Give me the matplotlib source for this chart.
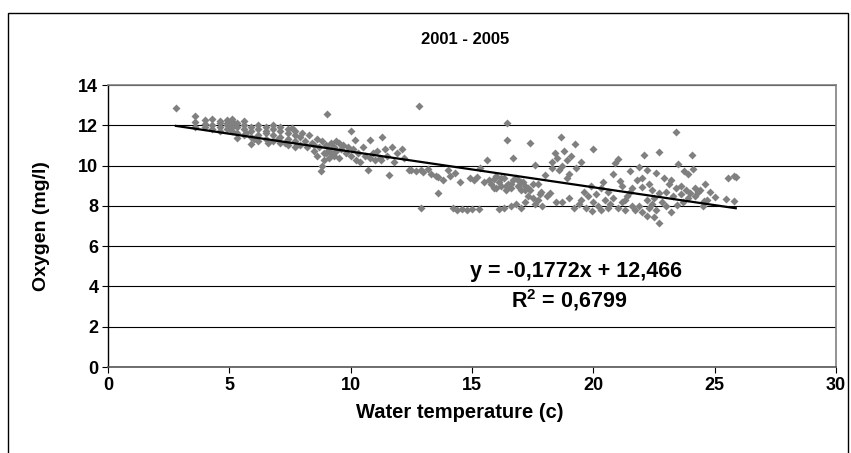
import matplotlib
matplotlib.use("Agg")
import matplotlib.pyplot as plt
from matplotlib.patches import Rectangle

plt.rcParams['font.family'] = ['Liberation Sans', 'DejaVu Sans']
plt.rcParams['font.weight'] = 'bold'
plt.rcParams['mathtext.fontset'] = 'custom'
plt.rcParams['mathtext.rm'] = 'Liberation Sans:bold'
plt.rcParams['mathtext.bf'] = 'Liberation Sans:bold'

# Water temperature (c) and dissolved oxygen (mg/l), grouped by temperature range
temp_cold = [2.8, 3.6, 3.6, 3.6, 4.0, 4.0, 4.0, 4.3, 4.3, 4.3, 4.6, 4.6, 4.6, 4.6,
             4.9, 4.9, 4.9, 4.9, 5.1, 5.1, 5.1, 5.1, 5.1, 5.3, 5.3, 5.3, 5.3,
             5.6, 5.6, 5.6, 5.6, 5.9, 5.9, 5.9, 5.9, 6.2, 6.2, 6.2, 6.2,
             6.5, 6.5, 6.5, 6.5, 6.8, 6.8, 6.8, 6.8, 7.1, 7.1, 7.1, 7.1,
             7.4, 7.4, 7.4, 7.4, 7.7, 7.7, 7.7, 7.7, 6.0, 6.6, 7.0, 7.3, 5.7]
oxy_cold = [12.85, 12.45, 12.15, 11.9, 12.25, 11.9, 12.05, 12.3, 12.0, 11.8, 12.2, 11.9, 12.1, 11.7,
            12.25, 12.0, 11.8, 12.1, 12.3, 12.0, 11.7, 11.9, 12.2, 11.35, 12.1, 11.9, 11.6,
            12.0, 11.8, 11.5, 12.2, 11.05, 11.7, 11.9, 11.4, 11.8, 11.5, 11.2, 12.0,
            11.9, 11.6, 11.3, 11.7, 11.5, 11.8, 11.2, 12.0, 11.4, 11.7, 11.1, 11.9,
            11.6, 11.3, 11.0, 11.8, 11.5, 11.2, 11.7, 10.9, 11.3, 11.1, 11.3, 11.1, 11.6]

temp_cool = [7.6, 7.9, 7.9, 8.0, 8.1, 8.2, 8.3, 8.4, 8.5, 8.6, 8.6, 8.7, 8.77, 8.8, 8.8,
             8.9, 8.9, 9.0, 9.04, 9.1, 9.1, 9.2, 9.2, 9.3, 9.3, 9.4, 9.4, 9.5, 9.6, 9.7,
             9.8, 9.9, 10.0, 10.0, 10.1, 10.16, 10.3, 10.4, 10.5, 10.6, 10.7, 10.8, 10.9,
             11.0, 11.1, 11.2, 11.26, 11.3, 11.4, 11.5, 11.56, 11.7, 11.8, 11.9, 12.1,
             12.2, 12.4, 8.5, 9.0, 9.5, 10.2, 10.8]
oxy_cool = [11.85, 11.4, 11.0, 11.6, 11.2, 10.9, 11.5, 11.1, 10.7, 11.3, 10.5, 10.9, 9.73, 10.0, 11.2,
            10.6, 10.3, 11.0, 12.56, 10.8, 10.4, 11.1, 10.6, 10.9, 10.5, 11.2, 10.7, 10.4, 10.8, 11.0,
            10.6, 10.9, 11.7, 10.5, 10.8, 11.27, 10.6, 10.2, 10.9, 10.5, 9.78, 11.27, 10.6,
            10.28, 10.7, 10.4, 10.28, 11.43, 10.8, 10.5, 9.53, 10.94, 10.2, 10.6, 10.82,
            10.4, 9.78, 11.0, 10.6, 11.1, 10.3, 10.4]

temp_mild = [12.5, 12.7, 12.8, 12.9, 12.9, 13.0, 13.2, 13.3, 13.5, 13.6, 13.6, 13.8, 14.0,
             14.1, 14.2, 14.3, 14.4, 14.5, 14.6, 14.8, 14.9, 15.0, 15.1, 15.2, 15.3, 15.35,
             15.5, 15.6, 15.8, 15.9, 16.0, 16.1, 16.1, 16.2, 16.3, 16.3, 16.45, 16.45, 16.5,
             16.6, 16.6, 16.7, 16.7, 16.8, 16.9, 17.0, 17.0, 17.1, 17.2, 17.2, 17.3, 17.4,
             15.7, 15.9, 16.2, 16.4, 16.6, 16.8, 17.0, 17.2, 16.0, 16.4, 16.9]
oxy_mild = [9.8, 9.75, 12.96, 7.88, 9.8, 9.7, 9.85, 9.6, 9.5, 9.45, 8.66, 9.3, 9.8,
            9.5, 7.88, 9.63, 7.8, 9.2, 7.85, 7.8, 9.4, 7.85, 9.3, 9.45, 7.85, 9.9,
            9.2, 10.28, 9.1, 9.35, 8.9, 7.85, 9.2, 9.0, 7.9, 9.4, 12.13, 11.27, 9.1,
            8.0, 8.9, 10.38, 9.3, 8.1, 9.0, 7.9, 8.8, 9.2, 8.2, 9.0, 8.5, 11.1,
            9.3, 8.9, 9.4, 8.8, 9.1, 9.4, 9.2, 8.8, 9.5, 9.0, 9.3]

temp_warm = [17.3, 17.4, 17.5, 17.5, 17.6, 17.6, 17.7, 17.7, 17.8, 17.85, 17.9, 18.0, 18.1,
             18.2, 18.3, 18.3, 18.4, 18.45, 18.5, 18.6, 18.65, 18.7, 18.7, 18.8, 18.9, 18.9,
             19.0, 19.0, 19.1, 19.2, 19.25, 19.3, 19.4, 19.5, 19.5, 19.6, 19.7, 19.8, 19.9,
             19.96, 20.0, 20.0, 20.1, 20.2, 20.3, 20.3, 20.4, 20.5, 20.6, 20.6, 20.7, 20.8,
             20.8, 20.9, 21.0, 21.0, 21.1, 21.2, 21.2, 21.3, 21.3, 21.4, 21.5, 21.5, 21.6,
             21.6, 21.7, 21.8, 21.9, 21.9, 22.0, 22.0, 22.0, 22.1, 22.2]
oxy_warm = [8.9, 8.8, 8.4, 9.1, 10.03, 8.1, 9.1, 8.3, 8.6, 8.7, 8.0, 9.53, 8.5,
            8.64, 10.2, 9.9, 10.6, 8.2, 10.4, 9.8, 11.43, 8.2, 10.0, 10.7, 9.38, 10.3,
            9.6, 8.4, 10.5, 7.9, 11.05, 9.9, 8.1, 10.2, 8.3, 8.7, 7.9, 8.5, 9.0,
            7.75, 10.82, 8.2, 8.6, 8.0, 7.8, 8.9, 9.19, 8.3, 7.9, 8.7, 8.1, 8.4,
            9.6, 10.13, 10.33, 7.9, 9.24, 8.2, 9.0, 7.8, 8.3, 8.5, 9.73, 8.7, 8.89,
            8.0, 7.8, 9.3, 9.95, 8.0, 8.95, 7.7, 9.4, 10.53, 7.5]

temp_hot = [22.2, 22.2, 22.3, 22.3, 22.4, 22.4, 22.5, 22.5, 22.6, 22.6, 22.7, 22.7, 22.7,
            22.85, 22.9, 23.0, 23.0, 23.1, 23.2, 23.2, 23.3, 23.4, 23.4, 23.45, 23.5, 23.6,
            23.6, 23.7, 23.75, 23.8, 23.9, 23.9, 24.0, 24.05, 24.1, 24.2, 24.2, 24.3, 24.4,
            24.5, 24.55, 24.6, 24.7, 24.8, 25.0, 25.45, 25.55, 25.8, 25.8, 25.87]
oxy_hot = [9.78, 8.3, 7.9, 9.1, 8.1, 8.8, 7.46, 8.4, 9.62, 7.8, 10.65, 8.62, 7.13,
           8.2, 9.37, 8.0, 8.7, 9.07, 7.68, 9.3, 8.5, 11.65, 8.9, 8.04, 10.06, 8.6,
           9.0, 8.2, 9.73, 8.8, 9.58, 8.4, 8.65, 10.53, 9.83, 8.9, 8.5, 8.7, 8.8,
           8.0, 8.24, 9.07, 8.3, 8.7, 8.46, 8.34, 9.37, 9.48, 8.24, 9.45]

# Linear trend reported on the chart
slope = -0.1772
intercept = 12.466
equation_text = "y = -0,1772x + 12,466"
r2_text = r"R$^{\mathbf{2}}$ = 0,6799"

x_ticks = [0, 5, 10, 15, 20, 25, 30]
y_ticks = [0, 2, 4, 6, 8, 10, 12, 14]

temps = temp_cold + temp_cool + temp_mild + temp_warm + temp_hot
oxygen = oxy_cold + oxy_cool + oxy_mild + oxy_warm + oxy_hot

fig = plt.figure(figsize=(8.51, 4.53), dpi=100)
ax = fig.add_axes([108 / 851, 1 - 367 / 453, (836 - 108) / 851, (367 - 85) / 453])

ax.plot(temps, oxygen, linestyle='none', marker='D', markersize=3.8,
        markerfacecolor='#808080', markeredgecolor='none', zorder=3)

x0, x1 = min(temps), max(temps)
ax.plot([x0, x1], [slope * x0 + intercept, slope * x1 + intercept],
        color='black', linewidth=1.6, zorder=4)

ax.set_xlim(0, 30)
ax.set_ylim(0, 14)
ax.set_xticks(x_ticks)
ax.set_yticks(y_ticks)
ax.tick_params(axis='both', direction='out', length=4.5, width=0.8, color='black',
               labelsize=13, pad=2.5)
for lab in ax.get_xticklabels() + ax.get_yticklabels():
    lab.set_fontweight('bold')

ax.yaxis.grid(True, color='black', linewidth=0.8)
ax.set_axisbelow(True)
ax.spines['left'].set_color('black')
ax.spines['left'].set_linewidth(1.0)
for side in ('top', 'right'):
    ax.spines[side].set_color('#808080')
    ax.spines[side].set_linewidth(1.2)
ax.spines['bottom'].set_color('#555555')
ax.spines['bottom'].set_linewidth(1.2)

ax.set_xlabel('Water temperature (c)', fontsize=14.5, fontweight='bold')
ax.xaxis.set_label_coords((460 - 108) / 728, -0.128)
ax.set_ylabel('Oxygen (mg/l)', fontsize=14, fontweight='bold')
ax.yaxis.set_label_coords(-(108 - 50) / 728, 0.5)

fig.text(465 / 851, 1 - 40 / 453, '2001 - 2005', ha='center', va='center',
         fontsize=12, fontweight='bold')

ax.text(19.3, 4.72, equation_text, ha='center', va='center', fontsize=15.5, fontweight='bold')
ax.text(19.0, 3.33, r2_text, ha='center', va='center', fontsize=15.5, fontweight='bold')

# Outer chart frame
fig.patches.append(Rectangle((8 / 851, -0.02), (848 - 8) / 851, 1 - 13 / 453 + 0.02,
                             transform=fig.transFigure, fill=False,
                             edgecolor='black', linewidth=1.0))

fig.savefig('out.png', dpi=100)
